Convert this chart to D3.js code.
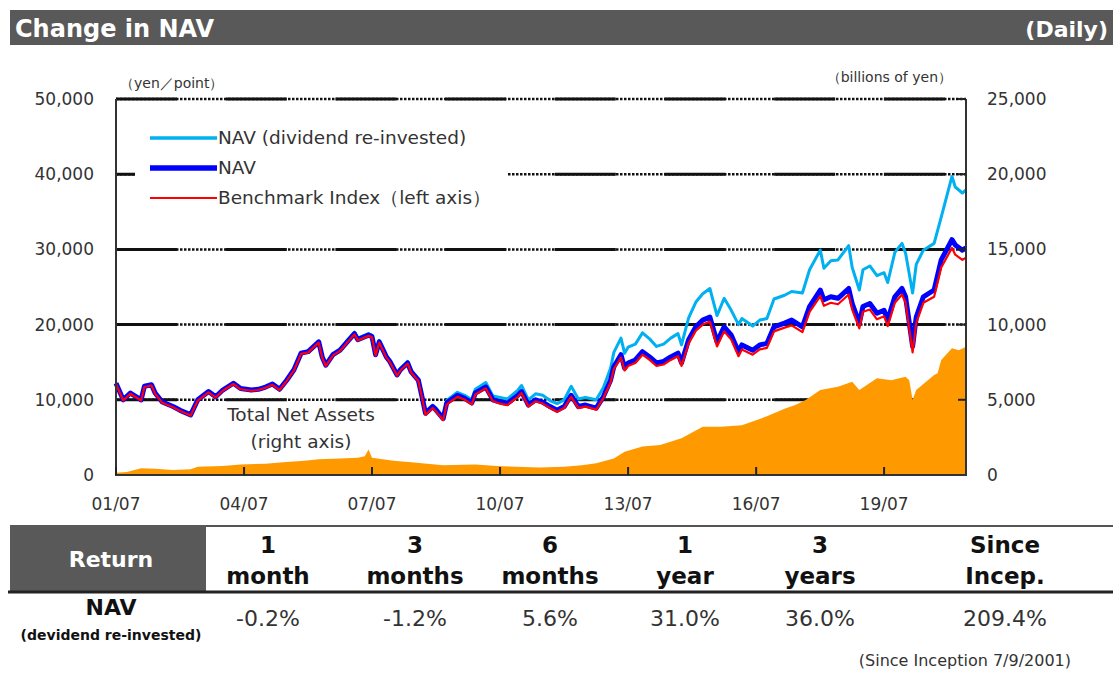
<!DOCTYPE html>
<html>
<head>
<meta charset="utf-8">
<script src="https://cdn.jsdelivr.net/npm/d3@7"></script>
<style>
body { margin: 0; background: #fff; }
svg text { font-family: "DejaVu Sans", "Noto Sans", sans-serif; }
</style>
</head>
<body>
<svg id="chart" width="1113" height="673"></svg>
<script>
// ---- data ----
const navDates = ["2001-07","2001-09","2001-11",
	"2002-02","2002-03","2002-05","2002-06","2002-08","2002-11",
	"2003-01","2003-04","2003-06","2003-09","2003-11",
	"2004-01","2004-04","2004-06","2004-09","2004-11",
	"2005-01","2005-03","2005-05","2005-07","2005-09","2005-11",
	"2006-01","2006-04","2006-05","2006-06","2006-08","2006-10","2006-12",
	"2007-02","2007-03","2007-06","2007-07","2007-08","2007-09","2007-11","2007-12",
	"2008-02","2008-03","2008-05","2008-06","2008-08","2008-09","2008-10","2008-12",
	"2009-01","2009-03","2009-04","2009-07","2009-09","2009-11","2009-12",
	"2010-03","2010-05","2010-07","2010-09","2010-12",
	"2011-01","2011-03","2011-05","2011-07","2011-09","2011-11",
	"2012-01","2012-03","2012-05","2012-07","2012-10","2012-12",
	"2013-02","2013-03","2013-05","2013-06","2013-07","2013-09","2013-11",
	"2014-01","2014-03","2014-05","2014-07","2014-09","2014-10","2014-12",
	"2015-02","2015-04","2015-06","2015-08","2015-10","2015-12",
	"2016-02","2016-03","2016-06","2016-08","2016-10","2016-12",
	"2017-03","2017-05","2017-08","2017-10",
	"2018-01","2018-02","2018-04","2018-06","2018-09","2018-10","2018-12",
	"2019-01","2019-03","2019-05","2019-07","2019-08","2019-10","2019-12",
	"2020-01","2020-03","2020-04","2020-06","2020-09","2020-11",
	"2021-02","2021-03","2021-05","2021-06"];

const navValues = [12200, 10000, 10900,
	10000, 11800, 12000, 10900, 9700, 9100,
	8600, 8000, 10000, 11100, 10400,
	11300, 12200, 11500, 11300, 11400,
	11700, 12100, 11400, 12600, 14000, 16200,
	16400, 17700, 15700, 14600, 16000, 16600, 17700,
	18800, 18000, 18600, 18400, 16000, 17700, 15700, 15100,
	13300, 14000, 14900, 13700, 12600, 10400, 8200, 9100,
	8600, 7500, 9600, 10600, 10200, 9600, 10900,
	11700, 10000, 9700, 9500, 10600,
	11100, 9300, 10000, 9700, 9100, 8600,
	9100, 10600, 9100, 9300, 8900, 10400,
	12600, 14400, 16000, 14200, 14900, 15300, 16400,
	15700, 14900, 15100, 15700, 16200, 14900, 18000,
	19700, 20600, 21000, 17700, 19700, 18600,
	16400, 17300, 16600, 17300, 17500, 19700,
	20200, 20600, 19700, 22400,
	24600, 23300, 23700, 23500, 24800, 22800, 20200,
	22400, 22800, 21500, 21900, 20600, 23700, 24800,
	23700, 17100, 21000, 23700, 24600, 28600,
	31300, 30600, 29900, 30200];

const reinvestedValues = [12200, 10000, 10900,
	10000, 11800, 12000, 10900, 9700, 9100,
	8600, 8000, 10000, 11100, 10400,
	11300, 12200, 11500, 11300, 11400,
	11700, 12100, 11400, 12600, 14000, 16200,
	16400, 17800, 15800, 14700, 16100, 16700, 17900,
	19000, 18200, 18800, 18600, 16200, 17900, 15900, 15300,
	13500, 14200, 15100, 13900, 12700, 10500, 8400, 9300,
	8900, 7700, 9900, 11000, 10600, 10000, 11400,
	12300, 10500, 10300, 10100, 11300,
	11900, 10000, 10800, 10600, 9900, 9500,
	10000, 11800, 10100, 10300, 10000, 11600,
	14200, 16300, 18200, 16200, 17000, 17400, 18900,
	18100, 17100, 17400, 18200, 18800, 17300, 20900,
	23000, 24100, 24800, 21200, 23500, 21900,
	20000, 20800, 19800, 20600, 20800, 23400,
	23900, 24400, 24200, 27300,
	29900, 27500, 28500, 28600, 30500, 27600, 24600,
	27300, 27800, 26500, 26900, 25600, 29600, 30800,
	29500, 24200, 28000, 29900, 30800, 34300,
	39700, 38300, 37500, 37900];

const benchmarkValues = [12100, 9900, 10800,
	9900, 11700, 11900, 10800, 9600, 9000,
	8500, 7900, 9900, 11000, 10300,
	11200, 12100, 11400, 11200, 11300,
	11600, 12000, 11300, 12500, 13900, 16100,
	16300, 17600, 15600, 14500, 15900, 16500, 17600,
	18700, 17900, 18500, 18300, 15900, 17600, 15600, 15000,
	13200, 13900, 14800, 13600, 12500, 10300, 8000, 8900,
	8400, 7300, 9400, 10400, 10000, 9400, 10700,
	11500, 9800, 9500, 9300, 10400,
	10900, 9100, 9800, 9500, 8900, 8400,
	8900, 10400, 8900, 9100, 8700, 10200,
	12300, 14100, 15600, 13900, 14500, 14900, 16000,
	15300, 14500, 14700, 15300, 15800, 14500, 17500,
	19200, 20000, 20400, 17100, 19100, 18000,
	15800, 16700, 16000, 16700, 16900, 19100,
	19600, 19900, 19000, 21700,
	23800, 22500, 22900, 22700, 24000, 22000, 19500,
	21700, 22000, 20700, 21100, 19800, 22900, 24000,
	22900, 16300, 20200, 22900, 23700, 27600,
	30200, 29300, 28600, 28900];

// Total Net Assets, billions of yen (right axis)
const tnaDates = ["2001-07","2001-10","2002-02","2002-06","2002-11","2003-04","2003-06",
	"2004-01","2004-06","2005-01","2005-06","2005-12","2006-04","2006-10",
	"2007-03","2007-05","2007-06","2007-07","2008-01","2008-06","2009-03","2009-12",
	"2010-06","2011-06","2012-01","2012-06","2012-10","2013-03","2013-06","2013-11",
	"2014-04","2014-10","2015-04","2015-09","2016-03","2016-10","2017-03","2017-06",
	"2017-09","2018-01","2018-06","2018-10","2018-12","2019-05","2019-09",
	"2020-01","2020-02","2020-03","2020-04","2020-09","2020-10","2020-11",
	"2021-02","2021-04","2021-06"];
const tnaValues = [150, 200, 450, 420, 330, 380, 550,
	600, 700, 750, 850, 950, 1050, 1100,
	1150, 1250, 1700, 1150, 950, 850, 650, 700,
	600, 500, 550, 650, 780, 1100, 1550, 1900,
	2000, 2450, 3200, 3200, 3300, 3900, 4400, 4650,
	5000, 5650, 5870, 6200, 5650, 6430, 6300,
	6540, 6300, 5000, 5650, 6650, 6760, 7650,
	8420, 8300, 8530];

const leftTicks = [0, 10000, 20000, 30000, 40000, 50000];
const rightTicks = [0, 5000, 10000, 15000, 20000, 25000];
const xTickDates = ["2001-07","2004-07","2007-07","2010-07","2013-07","2016-07","2019-07"];

const returnHeaders = [["1", "month"], ["3", "months"], ["6", "months"], ["1", "year"], ["3", "years"], ["Since", "Incep."]];
const returnValues = ["-0.2%", "-1.2%", "5.6%", "31.0%", "36.0%", "209.4%"];

const seriesInfo = [
	{ name: "NAV (dividend re-invested)", values: reinvestedValues, color: "#00b0f0", width: 3, legendWidth: 3.5 },
	{ name: "NAV", values: navValues, color: "#0000ff", width: 5, legendWidth: 5.5 },
	{ name: "Benchmark Index（left axis）", values: benchmarkValues, color: "#ff0000", width: 2.2, legendWidth: 2 }
];

// ---- layout ----
const parse = d3.timeParse("%Y-%m");
const svg = d3.select("#chart");
const plot = { left: 116, right: 966, top: 99, bottom: 475 };

const x = d3.scaleTime()
	.domain([parse("2001-07"), parse("2021-06")])
	.range([plot.left, plot.right]);
const yLeft = d3.scaleLinear().domain([0, 50000]).range([plot.bottom, plot.top]);
const yRight = d3.scaleLinear().domain([0, 25000]).range([plot.bottom, plot.top]);

// header bar
svg.append("rect").attr("x", 10).attr("y", 10).attr("width", 1103).attr("height", 35).attr("fill", "#595959");
svg.append("text").attr("x", 15).attr("y", 37).text("Change in NAV")
	.attr("fill", "#fff").style("font-size", "24px").style("font-weight", "bold");
svg.append("text").attr("x", 1108).attr("y", 37).text("(Daily)").attr("text-anchor", "end")
	.attr("fill", "#fff").style("font-size", "22px").style("font-weight", "bold");

// units
svg.append("text").attr("x", 120).attr("y", 88).text("（yen／point）")
	.attr("fill", "#333").style("font-size", "14px");
svg.append("text").attr("x", 952).attr("y", 82).text("（billions of yen）").attr("text-anchor", "end")
	.attr("fill", "#333").style("font-size", "14px");

// gridlines: dotted base with long solid dashes on top
const grid = svg.append("g").attr("class", "grid");
const gridLevels = leftTicks.filter(d => d > 0);
grid.selectAll(".dot")
	.data(gridLevels)
	.enter()
	.append("line")
	.attr("x1", plot.left).attr("x2", plot.right)
	.attr("y1", d => yLeft(d)).attr("y2", d => yLeft(d))
	.attr("stroke", "#111").attr("stroke-width", 2.5)
	.attr("stroke-dasharray", "2.5 1.5");
grid.selectAll(".solid")
	.data(gridLevels)
	.enter()
	.append("line")
	.attr("x1", plot.left).attr("x2", plot.right)
	.attr("y1", d => yLeft(d)).attr("y2", d => yLeft(d))
	.attr("stroke", "#111").attr("stroke-width", 3)
	.attr("stroke-dasharray", "61 48.7");

// total net assets area (right axis)
const tna = tnaDates.map((d, i) => ({ date: parse(d), value: tnaValues[i] }));
const area = d3.area()
	.x(d => x(d.date))
	.y0(yRight(0))
	.y1(d => yRight(d.value));
svg.append("path").datum(tna).attr("d", area).attr("fill", "#ff9900");

// legend box (covers gridline)
const legend = svg.append("g").attr("class", "legend");
legend.append("rect").attr("x", 135).attr("y", 118).attr("width", 372).attr("height", 100).attr("fill", "#fff");
seriesInfo.forEach((s, i) => {
	const ly = 138 + i * 30;
	legend.append("line").attr("x1", 150).attr("x2", 217).attr("y1", ly).attr("y2", ly)
		.attr("stroke", s.color).attr("stroke-width", s.legendWidth);
	legend.append("text").attr("x", 218).attr("y", ly + 6).text(s.name)
		.attr("fill", "#333").style("font-size", "18.5px");
});

// lines
const line = d3.line()
	.x(d => x(d.date))
	.y(d => yLeft(d.value));
const linesGroup = svg.append("g").attr("class", "lines");
seriesInfo.forEach(s => {
	const pts = navDates.map((d, i) => ({ date: parse(d), value: s.values[i] }));
	linesGroup.append("path").datum(pts).attr("d", line)
		.attr("fill", "none").attr("stroke", s.color).attr("stroke-width", s.width)
		.attr("stroke-linejoin", "round");
});

// axes frame
const frame = svg.append("g").attr("class", "frame");
frame.append("line").attr("x1", plot.left).attr("x2", plot.left).attr("y1", plot.top).attr("y2", plot.bottom)
	.attr("stroke", "#333").attr("stroke-width", 2);
frame.append("line").attr("x1", plot.right).attr("x2", plot.right).attr("y1", plot.top).attr("y2", plot.bottom)
	.attr("stroke", "#333").attr("stroke-width", 2);
frame.append("line").attr("x1", plot.left - 1).attr("x2", plot.right + 1).attr("y1", plot.bottom).attr("y2", plot.bottom)
	.attr("stroke", "#333").attr("stroke-width", 2);

// x ticks
const xTicks = xTickDates.map(parse);
frame.selectAll(".xtick")
	.data(xTicks)
	.enter()
	.append("line")
	.attr("x1", d => x(d)).attr("x2", d => x(d))
	.attr("y1", plot.bottom).attr("y2", plot.bottom - 8)
	.attr("stroke", "#222").attr("stroke-width", 2);
const fmt = d3.timeFormat("%y/%m");
svg.selectAll(".xlabel")
	.data(xTicks)
	.enter()
	.append("text")
	.attr("x", d => x(d)).attr("y", 510)
	.attr("text-anchor", "middle")
	.attr("fill", "#333").style("font-size", "17px")
	.text(d => fmt(d));

// right inner ticks
frame.selectAll(".rtick")
	.data(rightTicks.slice(1))
	.enter()
	.append("line")
	.attr("x1", plot.right - 8).attr("x2", plot.right)
	.attr("y1", d => yRight(d)).attr("y2", d => yRight(d))
	.attr("stroke", "#222").attr("stroke-width", 2);

// y labels
const numFmt = d3.format(",");
svg.selectAll(".ylabel")
	.data(leftTicks)
	.enter()
	.append("text")
	.attr("x", 94).attr("y", d => yLeft(d) + 6)
	.attr("text-anchor", "end")
	.attr("fill", "#333").style("font-size", "17px")
	.text(d => numFmt(d));
svg.selectAll(".rlabel")
	.data(rightTicks)
	.enter()
	.append("text")
	.attr("x", 987).attr("y", d => yRight(d) + 6)
	.attr("fill", "#333").style("font-size", "17px")
	.text(d => numFmt(d));

// area caption
svg.append("text").attr("x", 301).attr("y", 421).attr("text-anchor", "middle")
	.text("Total Net Assets").attr("fill", "#333").style("font-size", "18.5px");
svg.append("text").attr("x", 301).attr("y", 448).attr("text-anchor", "middle")
	.text("(right axis)").attr("fill", "#333").style("font-size", "18.5px");

// ---- return table ----
const table = svg.append("g").attr("class", "table");
table.append("line").attr("x1", 205).attr("x2", 1113).attr("y1", 526).attr("y2", 526)
	.attr("stroke", "#555").attr("stroke-width", 2);
table.append("rect").attr("x", 10).attr("y", 525).attr("width", 196).attr("height", 67).attr("fill", "#595959");
table.append("text").attr("x", 111).attr("y", 567).attr("text-anchor", "middle")
	.text("Return").attr("fill", "#fff").style("font-size", "22px").style("font-weight", "bold");
table.append("line").attr("x1", 8).attr("x2", 1113).attr("y1", 592).attr("y2", 592)
	.attr("stroke", "#222").attr("stroke-width", 3);

const colX = [268, 415, 550, 685, 820, 1005];
returnHeaders.forEach((h, i) => {
	table.append("text").attr("x", colX[i]).attr("y", 553).attr("text-anchor", "middle")
		.text(h[0]).attr("fill", "#111").style("font-size", "23px").style("font-weight", "bold");
	table.append("text").attr("x", colX[i]).attr("y", 584).attr("text-anchor", "middle")
		.text(h[1]).attr("fill", "#111").style("font-size", "23px").style("font-weight", "bold");
	table.append("text").attr("x", colX[i]).attr("y", 626).attr("text-anchor", "middle")
		.text(returnValues[i]).attr("fill", "#333").style("font-size", "22px");
});
table.append("text").attr("x", 111).attr("y", 615).attr("text-anchor", "middle")
	.text("NAV").attr("fill", "#111").style("font-size", "22px").style("font-weight", "bold");
table.append("text").attr("x", 111).attr("y", 640).attr("text-anchor", "middle")
	.text("(devidend re-invested)").attr("fill", "#111").style("font-size", "14px").style("font-weight", "bold");

svg.append("text").attr("x", 1071).attr("y", 666).attr("text-anchor", "end")
	.text("(Since Inception 7/9/2001)").attr("fill", "#333").style("font-size", "16px");
</script>
</body>
</html>
